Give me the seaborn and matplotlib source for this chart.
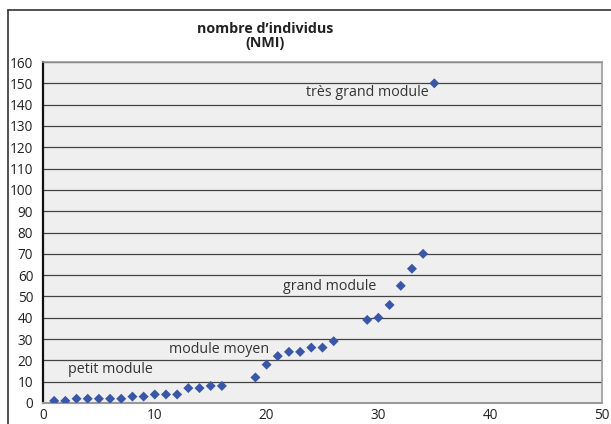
import matplotlib
matplotlib.use("Agg")
import matplotlib.pyplot as plt
from matplotlib.lines import Line2D
import seaborn as sns
import pandas as pd

# data
x_vals = [1, 2, 3, 4, 5, 6, 7, 8, 9, 10, 11, 12, 13, 14, 15, 16,
          19, 20, 21, 22, 23, 24, 25, 26, 29, 30, 31, 32, 33, 34, 35]
nmi = [1, 1, 2, 2, 2, 2, 2, 3, 3, 4, 4, 4, 7, 7, 8, 8,
       12, 18, 22, 24, 24, 26, 26, 29, 39, 40, 46, 55, 63, 70, 150]
labels = ["petit module", "module moyen", "grand module", "très grand module"]
label_x = [2.2, 11.3, 21.5, 23.5]
label_y = [15.5, 25, 54.5, 145.5]
title = "nombre d\u2019individus\n(NMI)"

df = pd.DataFrame({"x": x_vals, "nmi": nmi})

sns.set_style("white")
plt.rcParams["font.family"] = ["Open Sans", "DejaVu Sans"]

fig = plt.figure(figsize=(6.11, 4.24), dpi=100)
ax = fig.add_axes([43 / 611, 1 - 403 / 424, 559 / 611, 341 / 424])
ax.set_facecolor("#efefef")

sns.scatterplot(data=df, x="x", y="nmi", ax=ax, marker="D", s=26,
                color="#3a56a8", edgecolor="none", zorder=3)

ax.set_xlim(0, 50)
ax.set_ylim(0, 160)
ax.set_xticks(range(0, 51, 10))
ax.set_yticks(range(0, 161, 10))
ax.grid(axis="y", color="#444444", linewidth=0.9)
ax.set_axisbelow(True)
ax.set_xlabel("")
ax.set_ylabel("")
ax.tick_params(axis="both", labelsize=9.8, colors="#222222",
               direction="out", pad=2)
ax.tick_params(axis="y", length=5, width=1, color="#222222")
ax.tick_params(axis="x", length=3, width=1, color="#333333", pad=0.5)

for side in ["top", "right"]:
    ax.spines[side].set_color("#999999")
    ax.spines[side].set_linewidth(1.2)
ax.spines["bottom"].set_color("#999999")
ax.spines["bottom"].set_linewidth(1.5)
ax.spines["left"].set_color("#111111")
ax.spines["left"].set_linewidth(1.6)

for txt, tx, ty in zip(labels, label_x, label_y):
    ax.text(tx, ty, txt, fontsize=10.3, color="#333333", va="center", ha="left")

fig.text(265 / 611, 1 - 36 / 424, title, ha="center", va="center",
         fontsize=10.3, fontweight="bold", color="#222222", linespacing=1.0)

# outer chart border (left and top edges visible in the reference)
fig.add_artist(Line2D([8 / 611, 8 / 611], [0, 1 - 10 / 424], color="#333333",
                      linewidth=1.2, transform=fig.transFigure))
fig.add_artist(Line2D([8 / 611, 1], [1 - 10 / 424, 1 - 10 / 424], color="#333333",
                      linewidth=1.2, transform=fig.transFigure))

fig.savefig("out.png", dpi=100)
